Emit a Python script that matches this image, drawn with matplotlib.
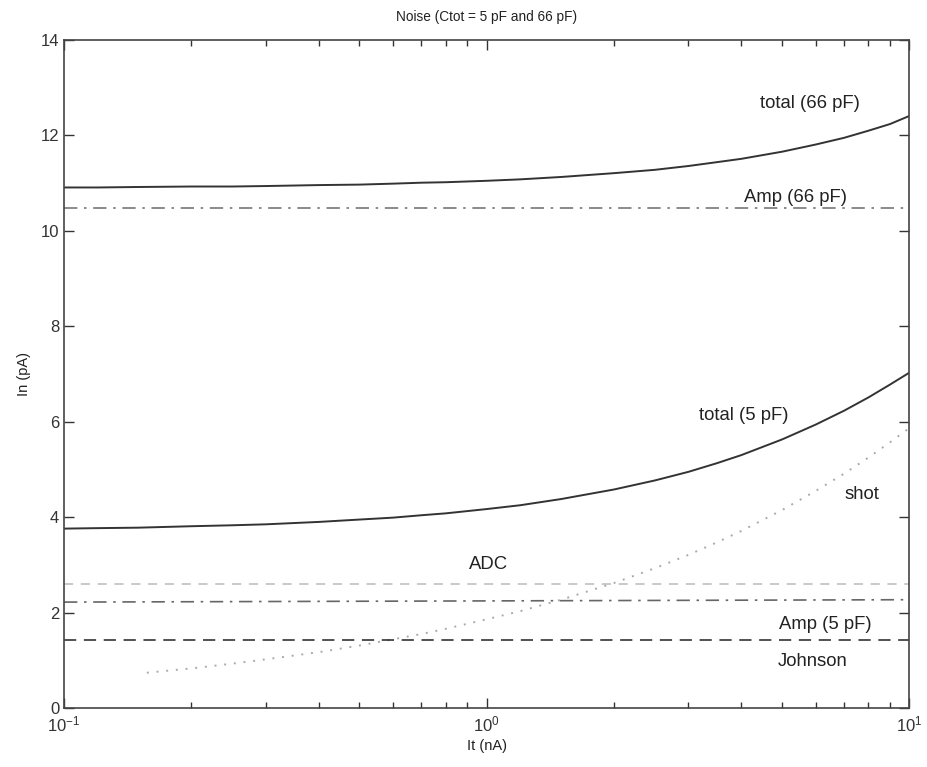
import numpy as np
import matplotlib
matplotlib.use("Agg")
import matplotlib.pyplot as plt
from matplotlib.ticker import LogLocator, NullFormatter

plt.rcParams['font.family'] = ['Liberation Sans', 'DejaVu Sans']
plt.rcParams['mathtext.default'] = 'regular'

# Transimpedance current It (nA)
current = [0.1, 0.12, 0.15, 0.2, 0.25, 0.3, 0.4, 0.5, 0.6, 0.7, 0.8, 1.0, 1.2, 1.5,
           2.0, 2.5, 3.0, 3.5, 4.0, 5.0, 6.0, 7.0, 8.0, 9.0, 10.0]

# Total noise In (pA) for the two detector capacitances
total_66pF = [10.91, 10.91, 10.92, 10.93, 10.93, 10.94, 10.96, 10.97, 10.99, 11.01, 11.02,
              11.05, 11.08, 11.13, 11.21, 11.28, 11.36, 11.44, 11.51, 11.66, 11.81, 11.95,
              12.10, 12.24, 12.41]
total_5pF = [3.76, 3.77, 3.78, 3.81, 3.83, 3.85, 3.90, 3.95, 3.99, 4.04, 4.08,
             4.17, 4.25, 4.38, 4.58, 4.77, 4.95, 5.13, 5.30, 5.63, 5.94, 6.23,
             6.51, 6.78, 7.03]

# Shot noise
shot_current = [0.157, 0.2, 0.25, 0.3, 0.4, 0.5, 0.6, 0.7, 0.8, 1.0, 1.2, 1.5,
                2.0, 2.5, 3.0, 3.5, 4.0, 5.0, 6.0, 7.0, 8.0, 9.0, 10.0]
shot = [0.74, 0.83, 0.93, 1.02, 1.17, 1.31, 1.44, 1.55, 1.66, 1.86, 2.03, 2.27,
        2.62, 2.93, 3.21, 3.47, 3.71, 4.15, 4.55, 4.91, 5.25, 5.57, 5.87]

# Flat contributions
flat_current = [0.1, 10.0]
amp_66pF = [10.48, 10.48]
amp_5pF = [2.22, 2.27]
adc = [2.60, 2.60]
johnson = [1.43, 1.43]

fig = plt.figure(figsize=(9.28, 7.67), dpi=100)
ax = fig.add_axes([0.069, 0.0769, 0.911, 0.8709])

dashdot = (0, (8, 4, 1.5, 4))
ax.plot(current, total_66pF, color='#333333', lw=1.4)
ax.plot(flat_current, amp_66pF, color='#777777', lw=1.2, linestyle=dashdot)
ax.plot(current, total_5pF, color='#333333', lw=1.4)
ax.plot(shot_current, shot, color='#aaaaaa', lw=1.4, linestyle=(0, (1, 4)))
ax.plot(flat_current, adc, color='#bbbbbb', lw=1.1, linestyle=(0, (6, 5)))
ax.plot(flat_current, amp_5pF, color='#666666', lw=1.2, linestyle=dashdot)
ax.plot(flat_current, johnson, color='#222222', lw=1.1, linestyle=(0, (8, 5)))

labels = [
    ("total (66 pF)", 5.82, 12.66),
    ("Amp (66 pF)", 5.37, 10.71),
    ("total (5 pF)", 4.06, 6.14),
    ("shot", 7.74, 4.47),
    ("ADC", 1.01, 3.0),
    ("Amp (5 pF)", 6.33, 1.76),
    ("Johnson", 5.9, 0.985),
]
for text, lx, ly in labels:
    ax.text(lx, ly, text, ha='center', va='center', fontsize=13.3, color='#222222')

ax.set_xscale('log')
ax.set_xlim(0.1, 10)
ax.set_ylim(0, 14)
ax.set_yticks([0, 2, 4, 6, 8, 10, 12, 14])
ax.xaxis.set_minor_locator(LogLocator(base=10, subs=np.arange(2, 10)))
ax.xaxis.set_minor_formatter(NullFormatter())

ax.tick_params(which='both', direction='in', top=True, right=True, labelsize=12, colors='#333333')
ax.tick_params(axis='x', pad=5)
ax.tick_params(which='major', length=7, width=1)
ax.tick_params(which='minor', length=4, width=1)
for s in ax.spines.values():
    s.set_color('#444444')
    s.set_linewidth(1.2)

ax.set_title("Noise (Ctot = 5 pF and 66 pF)", fontsize=9.8, color='#222222', pad=14)
ax.set_xlabel("It (nA)", fontsize=10.5, color='#222222', labelpad=3)
ax.set_ylabel("In (pA)", fontsize=10.5, color='#222222', labelpad=7)

fig.savefig("out.png", dpi=100)
